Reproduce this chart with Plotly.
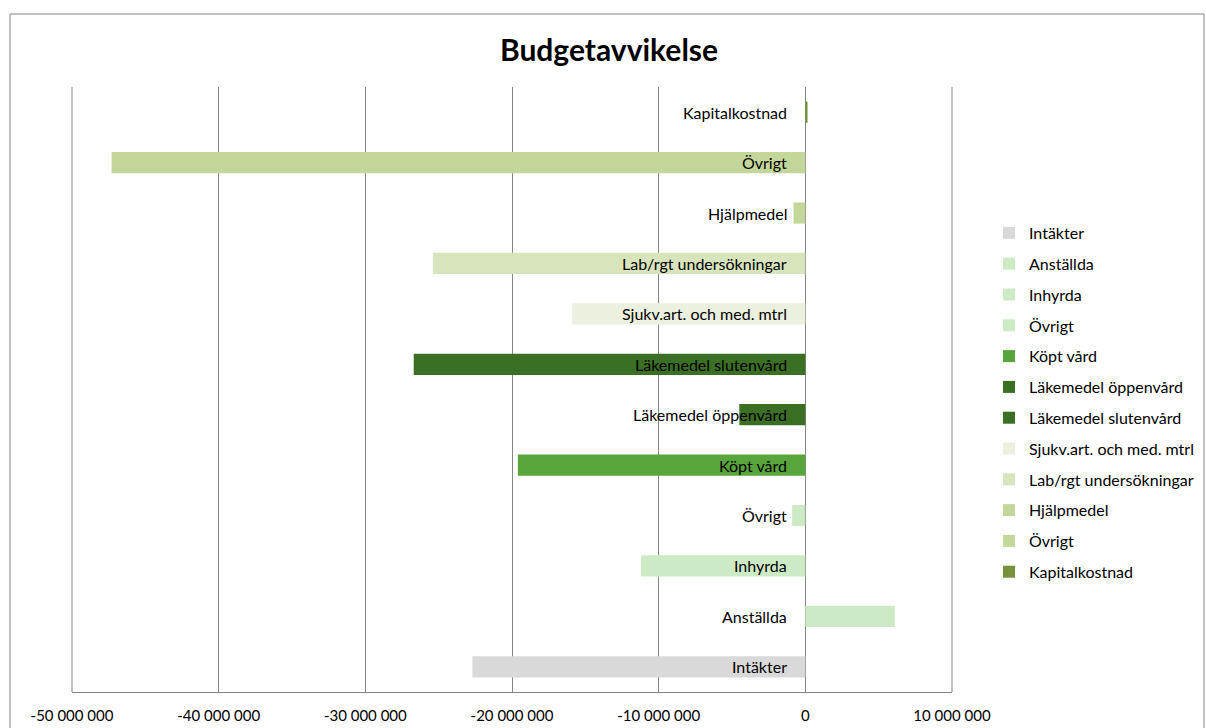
import plotly.graph_objects as go

categories = ["Intäkter", "Anställda", "Inhyrda", "Övrigt", "Köpt vård",
              "Läkemedel öppenvård", "Läkemedel slutenvård",
              "Sjukv.art. och med. mtrl", "Lab/rgt undersökningar",
              "Hjälpmedel", "Övrigt", "Kapitalkostnad"]
values = [-22700000, 6100000, -11200000, -900000, -19600000,
          -4500000, -26700000, -15900000, -25400000,
          -800000, -47300000, 150000]
colors = ["#D9D9D9", "#CCEBC5", "#CCEBC5", "#CCEBC5", "#58A53B",
          "#3A6F24", "#3A6F24", "#EBF1DE", "#D8E4BC",
          "#C4D79B", "#C4D79B", "#76923C"]
tick_vals = [-50000000, -40000000, -30000000, -20000000, -10000000, 0, 10000000]
tick_text = ["-50 000 000", "-40 000 000", "-30 000 000", "-20 000 000",
             "-10 000 000", "0", "10 000 000"]

FONT = "Lato"
fig = go.Figure()
for i, (cat, val, col) in enumerate(zip(categories, values, colors)):
    fig.add_trace(go.Bar(
        x=[val], y=[i], orientation="h", name=cat,
        marker=dict(color=col, line=dict(width=0)),
        width=0.42, legendgroup=f"g{i}", hoverinfo="x+name",
    ))
    fig.add_annotation(x=0, y=i, xref="x", yref="y", text=cat,
                       showarrow=False, xanchor="right", xshift=-16,
                       font=dict(family=FONT, size=16, color="#000000"))

W, H = 1206, 728
L, R, T, B = 72, 254, 87, 36
pw, ph = W - L - R, H - T - B

def px(x):
    return (x - L) / pw

def py(y):
    return (H - B - y) / ph

fig.add_shape(type="rect", xref="paper", yref="paper",
              x0=px(10), x1=px(1204), y0=py(735), y1=py(14),
              line=dict(color="#868686", width=1), fillcolor="rgba(0,0,0,0)",
              layer="below")

fig.update_layout(
    width=W, height=H,
    margin=dict(l=L, r=R, t=T, b=B, autoexpand=False),
    paper_bgcolor="white", plot_bgcolor="white",
    barmode="overlay",
    title=dict(text="<b>Budgetavvikelse</b>", x=609 / W, xanchor="center",
               y=1 - 50 / H, yanchor="middle",
               font=dict(family=FONT, size=30, color="#000000")),
    font=dict(family=FONT, size=16, color="#000000"),
    xaxis=dict(range=[-50000000, 10000000], tickvals=tick_vals, ticktext=tick_text,
               showgrid=True, gridcolor="#868686", gridwidth=1,
               zeroline=False, showline=True, linecolor="#868686", linewidth=1,
               mirror=False, ticks="", ticklabelstandoff=10, automargin=False,
               tickfont=dict(family=FONT, size=15, color="#000000")),
    yaxis=dict(range=[-0.5, 11.5], showticklabels=False, showgrid=False,
               zeroline=False, showline=False, ticks="", automargin=False),
    legend=dict(x=px(989), y=py(216), xanchor="left", yanchor="top",
                traceorder="grouped", tracegroupgap=7,
                font=dict(family=FONT, size=16, color="#000000"),
                itemwidth=30, bgcolor="rgba(0,0,0,0)"),
    showlegend=True,
)
for xx in (0, 1):
    fig.add_shape(type="line", xref="paper", yref="paper", x0=xx, x1=xx, y0=0, y1=1,
                  line=dict(color="#868686", width=1))

fig.write_html("out.html")
